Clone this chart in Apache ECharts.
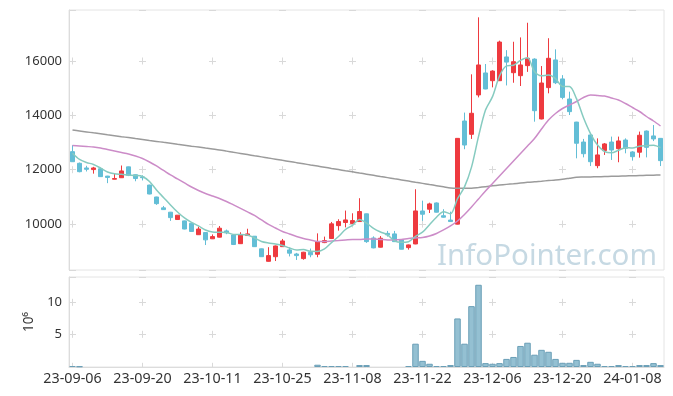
<!DOCTYPE html>
<html><head><meta charset="utf-8">
<script src="https://cdn.jsdelivr.net/npm/echarts@6/dist/echarts.min.js"></script>
<style>html,body{margin:0;padding:0;background:#fff}#c{width:673px;height:396px}</style>
</head><body><div id="c"></div>
<script>
const dates = [
'23-09-06','23-09-07','23-09-08','23-09-11','23-09-12','23-09-13','23-09-14','23-09-15','23-09-18','23-09-19',
'23-09-20','23-09-21','23-09-22','23-09-25','23-09-26','23-09-27','23-10-04','23-10-05','23-10-06','23-10-10',
'23-10-11','23-10-12','23-10-13','23-10-16','23-10-17','23-10-18','23-10-19','23-10-20','23-10-23','23-10-24',
'23-10-25','23-10-26','23-10-27','23-10-30','23-10-31','23-11-01','23-11-02','23-11-03','23-11-06','23-11-07',
'23-11-08','23-11-09','23-11-10','23-11-13','23-11-14','23-11-15','23-11-16','23-11-17','23-11-20','23-11-21',
'23-11-22','23-11-23','23-11-24','23-11-27','23-11-28','23-11-29','23-11-30','23-12-01','23-12-04','23-12-05',
'23-12-06','23-12-07','23-12-08','23-12-11','23-12-12','23-12-13','23-12-14','23-12-15','23-12-18','23-12-19',
'23-12-20','23-12-21','23-12-22','23-12-26','23-12-27','23-12-28','24-01-02','24-01-03','24-01-04','24-01-05',
'24-01-08','24-01-09','24-01-10','24-01-11','24-01-12'];

const opens = [12660,12232,12060,12000,12030,11760,11645,11700,12100,11810,
11730,11430,10990,10590,10430,10160,10110,10020,9600,9680,
9450,9510,9740,9590,9270,9570,9545,9080,8620,8790,
9160,9040,8890,8720,8950,8880,9310,9460,9935,10050,
10010,10085,10370,9480,9140,9650,9630,9410,9125,9260,
10475,10540,10770,10300,10140,9990,13790,13300,14750,15560,
15275,15275,16150,15570,15460,15830,16070,13865,15020,16040,
15340,14600,13750,13015,13275,12145,12700,13015,12770,13090,
12650,12640,13420,13240,13150];
const closes = [12290,11923,12010,12060,11740,11710,11670,11950,11790,11670,
11700,11100,10745,10525,10230,10320,9810,9720,9810,9410,
9530,9840,9670,9240,9590,9630,9160,8790,8830,9185,
9370,8920,8830,8955,8860,9345,9385,10000,10085,10145,
10120,10455,9345,9115,9470,9595,9345,9065,9225,10476,
10355,10735,10430,10245,10085,13150,12905,14075,15855,14970,
15630,16700,15960,15975,15855,16100,14170,15190,16100,15200,
14660,14135,12970,12585,12290,12540,12945,12720,13055,12785,
12475,13265,12820,13130,12330];
const lows = [12280,11900,11930,11850,11730,11500,11640,11690,11760,11570,
11600,11090,10700,10520,10110,10150,9800,9700,9590,9220,
9440,9500,9620,9220,9260,9560,9150,8780,8610,8630,
9150,8800,8670,8680,8770,8770,9290,9440,9750,9870,
10000,10070,9300,9100,9130,9530,9330,9060,9050,9250,
10110,10400,10420,10230,10070,9980,12750,13130,14660,14960,
15030,15270,15100,15200,15080,15600,13765,13850,14810,15150,
14590,14010,12415,12450,12130,12050,12540,12355,12270,12600,
12330,12440,12450,13050,12130];
const highs = [12900,12260,12140,12100,12070,11770,11850,12150,12110,11820,
11790,11440,11000,10660,10440,10320,10120,10030,9900,9690,
9610,9920,9790,9600,9690,9820,9550,9090,9140,9200,
9445,9130,8930,8970,9090,9650,9530,10070,10170,10490,
10390,10945,10380,9540,9550,9740,9740,9420,9240,11275,
10855,10780,10790,10540,10450,13160,14100,15510,17610,15890,
15660,16750,16400,16710,16870,17410,16100,15815,16840,16430,
15480,14870,13760,13130,13290,13150,12980,13215,13215,13150,
12680,13400,13440,13640,13160];
const volumes = [0.15,0.1,0,0,0,0,0,0,0,0,
0,0,0,0,0,0,0,0,0,0,
0,0,0,0,0,0,0,0,0,0,
0,0,0,0,0,0.35,0.15,0.15,0.15,0.15,
0,0.3,0.3,0,0,0,0,0,0.15,3.6,
0.95,0.5,0.15,0.15,0.3,7.5,3.6,9.4,12.7,0.6,
0.5,0.6,1.25,1.55,3.25,3.75,1.9,2.65,2.35,1.25,
0.65,0.65,1.1,0.3,0.8,0.5,0.15,0.15,0.3,0.15,
0.15,0.3,0.3,0.6,0.3];
const ma5 = [12600,12372,12262,12188,12059,11912,11845,11827,11801,11783,
11746,11562,11249,10973,10697,10439,10218,10052,9923,9776,
9702,9691,9684,9610,9610,9592,9481,9353,9297,9260,
9205,9113,9039,9052,8987,8982,9075,9309,9535,9792,
9947,10161,10030,9836,9701,9596,9374,9318,9340,9541,
9693,9971,10244,10448,10370,10929,11363,12092,13214,14191,
14687,15446,15823,15847,16024,16118,15612,15458,15483,15352,
15064,15057,14613,13910,13328,12904,12666,12616,12710,12809,
12796,12860,12880,12895,12804];
const ma20 = [12888,12869,12851,12833,12796,12741,12685,12630,12575,12501,
12409,12280,12133,11967,11801,11654,11507,11359,11230,11120,
11028,10936,10825,10697,10568,10439,10310,10144,9978,9849,
9720,9629,9537,9463,9408,9352,9352,9371,9389,9408,
9426,9426,9445,9445,9426,9408,9408,9426,9463,9481,
9500,9555,9647,9776,9923,10107,10347,10623,10918,11212,
11489,11765,12041,12317,12593,12869,13146,13496,13827,14067,
14251,14380,14508,14656,14748,14729,14711,14637,14564,14435,
14287,14140,13956,13790,13606];
const ma120 = [13459,13424,13389,13353,13319,13283,13249,13213,13179,13143,
13109,13073,13039,13003,12969,12933,12899,12863,12829,12792,
12757,12722,12680,12637,12595,12553,12510,12468,12425,12383,
12340,12298,12256,12214,12170,12128,12086,12043,12001,11958,
11916,11873,11831,11789,11746,11704,11661,11619,11577,11534,
11492,11449,11407,11365,11323,11312,11312,11315,11341,11371,
11400,11429,11455,11477,11503,11529,11555,11573,11595,11614,
11643,11680,11717,11724,11731,11735,11742,11750,11757,11765,
11772,11779,11787,11794,11801];

const FONT = 'Noto Sans';
const candles = dates.map((d, i) => [opens[i], closes[i], lows[i], highs[i]]);
const volumeBars = volumes.map(v => (v > 0 ? v : '-'));
const chart = echarts.init(document.getElementById('c'), null, {renderer: 'canvas'});
const crossColor = '#d9d9d9';
const plain = v => String(v);
chart.setOption({
  animation: false,
  backgroundColor: '#ffffff',
  title: {
    text: 'InfoPointer.com', right: 11, top: 237,
    textStyle: {fontSize: 29.5, fontWeight: 'normal', color: '#c6d9e3', fontFamily: FONT}
  },
  grid: [
    {left: 69, right: 9, top: 10, height: 260, show: true, borderColor: '#e4e4e4', borderWidth: 1},
    {left: 69, right: 9, top: 277, height: 90, show: true, borderColor: '#e4e4e4', borderWidth: 1}
  ],
  xAxis: [
    {type: 'category', gridIndex: 0, data: dates, boundaryGap: true,
     axisLine: {show: false}, axisTick: {show: false}, axisLabel: {show: false},
     splitLine: {show: true, interval: 9, alignWithLabel: true,
       lineStyle: {color: crossColor, width: 1, type: [7, 47.35], dashOffset: 6.85}}},
    {type: 'category', gridIndex: 1, data: dates, boundaryGap: true,
     axisLine: {show: true, lineStyle: {color: '#dcdcdc'}}, axisTick: {show: false},
     axisLabel: {show: true, interval: 9, color: '#333', fontSize: 14.3, fontFamily: FONT, margin: 5},
     splitLine: {show: true, interval: 9, alignWithLabel: true,
       lineStyle: {color: crossColor, width: 1, type: [7, 25], dashOffset: 10.2}}}
  ],
  yAxis: [
    {type: 'value', gridIndex: 0, min: 8300, max: 17880,
     axisLine: {show: true, lineStyle: {color: '#dcdcdc'}}, axisTick: {show: false},
     axisLabel: {color: '#333', fontSize: 13, fontFamily: FONT, margin: 7, formatter: plain,
       showMinLabel: false, showMaxLabel: false},
     splitLine: {show: true, lineStyle: {color: crossColor, width: 1, type: [7, 63], dashOffset: 0}}},
    {type: 'value', gridIndex: 1, min: 0, max: 13.9, interval: 5,
     name: '10⁶', nameLocation: 'middle', nameRotate: 90, nameGap: 31,
     nameTextStyle: {color: '#333', fontSize: 13.5, fontFamily: FONT},
     axisLine: {show: true, lineStyle: {color: '#dcdcdc'}}, axisTick: {show: false},
     axisLabel: {color: '#333', fontSize: 13, fontFamily: FONT, margin: 7, formatter: plain,
       showMinLabel: false, showMaxLabel: false},
     splitLine: {show: true, lineStyle: {color: crossColor, width: 1, type: [7, 63], dashOffset: 0}}}
  ],
  series: [
    {type: 'candlestick', xAxisIndex: 0, yAxisIndex: 0, data: candles, barWidth: 5,
     itemStyle: {color: '#ee3a3f', color0: '#63bed6', borderColor: '#ee3a3f', borderColor0: '#63bed6', borderWidth: 1}},
    {type: 'line', xAxisIndex: 0, yAxisIndex: 0, data: ma120, symbol: 'none', smooth: 0.3,
     lineStyle: {color: '#9b9b9b', width: 1.5}},
    {type: 'line', xAxisIndex: 0, yAxisIndex: 0, data: ma20, symbol: 'none', smooth: 0.3,
     lineStyle: {color: '#cc8cc8', width: 1.5}},
    {type: 'line', xAxisIndex: 0, yAxisIndex: 0, data: ma5, symbol: 'none', smooth: 0.3,
     lineStyle: {color: '#86cbc0', width: 1.5}},
    {type: 'bar', xAxisIndex: 1, yAxisIndex: 1, data: volumeBars, barWidth: 6.5,
     itemStyle: {color: '#94c0d2', borderColor: '#6a9fb7', borderWidth: 1}}
  ]
});
</script>
</body></html>
